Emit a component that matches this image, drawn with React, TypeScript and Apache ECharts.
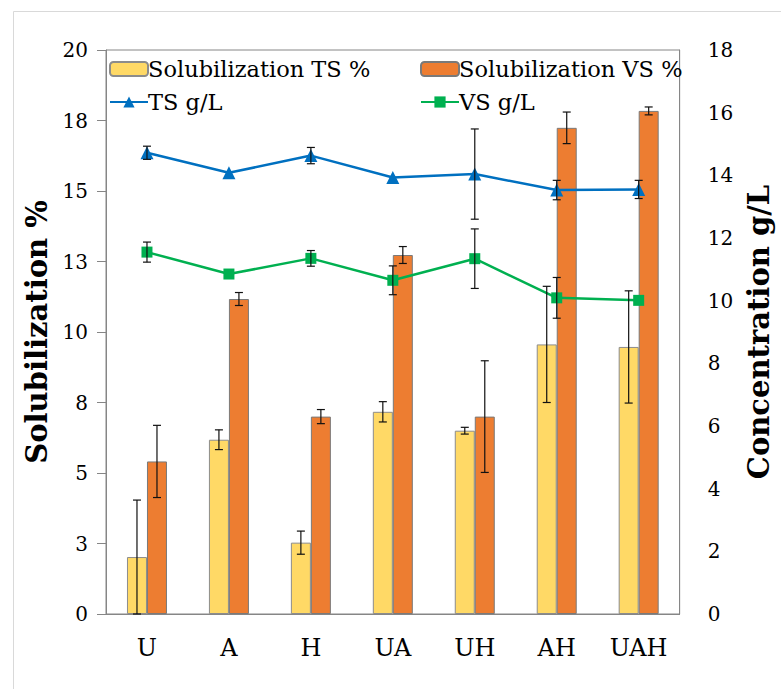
import React, { useEffect, useRef } from "react";
import * as echarts from "echarts";

const categories = ["U", "A", "H", "UA", "UH", "AH", "UAH"];
const solTS = [2.02, 6.18, 2.53, 7.17, 6.5, 9.56, 9.47];
const solTSErr = [2.02, 0.35, 0.41, 0.36, 0.12, 2.06, 1.99];
const solVS = [5.41, 11.17, 7.0, 12.73, 7.0, 17.24, 17.84];
const solVSErr = [1.28, 0.23, 0.25, 0.3, 1.98, 0.56, 0.14];
const tsGL = [14.72, 14.08, 14.63, 13.93, 14.04, 13.53, 13.55];
const tsGLErr = [0.21, 0, 0.26, 0, 1.44, 0.31, 0.29];
const vsGL = [11.55, 10.85, 11.35, 10.65, 11.34, 10.09, 10.01];
const vsGLErr = [0.32, 0, 0.25, 0.46, 0.95, 0.65, 0];

const leftAxisRange = { min: 0, max: 20, interval: 2.5 };
const rightAxisRange = { min: 0, max: 18, interval: 2 };

const FONT = "DejaVu Serif";
const AXIS_COLOR = "#868686";
const BAR_W = 20;

function errSeries(name: string, vals: number[], errs: number[], axis: number, offset: number) {
  return {
    type: "custom",
    name,
    yAxisIndex: axis,
    z: 5,
    silent: true,
    data: vals
      .map((v, i) => [i, v - errs[i], v + errs[i], errs[i]])
      .filter((d) => d[3] > 0),
    encode: { x: 0, y: [1, 2] },
    renderItem: (_params: any, api: any) => {
      const i = api.value(0);
      const lo = api.coord([i, api.value(1)]);
      const hi = api.coord([i, api.value(2)]);
      const x = lo[0] + offset;
      const style = { stroke: "#111", lineWidth: 1.2 };
      return {
        type: "group",
        children: [
          { type: "line", shape: { x1: x, y1: lo[1], x2: x, y2: hi[1] }, style },
          { type: "line", shape: { x1: x - 4, y1: lo[1], x2: x + 4, y2: lo[1] }, style },
          { type: "line", shape: { x1: x - 4, y1: hi[1], x2: x + 4, y2: hi[1] }, style },
        ],
      };
    },
  };
}

export default function App() {
  const ref = useRef<HTMLDivElement>(null);
  useEffect(() => {
    if (!ref.current) return;
    const chart = echarts.init(ref.current, null, { renderer: "svg" });
    const legendText = {
      fontFamily: FONT,
      fontSize: 22.5,
      color: "#000",
      lineHeight: 24,
      padding: [0, 0, 0, -5],
    };
    chart.setOption({
      animation: false,
      backgroundColor: "#fff",
      graphic: [
        {
          type: "rect",
          shape: { x: 13.5, y: 11.5, width: 800, height: 700 },
          style: { fill: "none", stroke: "#d9d9d9", lineWidth: 1 },
          silent: true,
        },
      ],
      grid: {
        left: 106,
        right: 92,
        top: 50,
        bottom: 75,
        show: true,
        borderColor: AXIS_COLOR,
        borderWidth: 1,
        backgroundColor: "transparent",
      },
      legend: [
        {
          data: ["Solubilization TS %", "TS g/L"],
          orient: "vertical",
          left: 104,
          top: 52,
          itemWidth: 38,
          itemHeight: 14,
          itemGap: 9,
          textStyle: legendText,
          selectedMode: false,
        },
        {
          data: ["Solubilization VS %", "VS g/L"],
          orient: "vertical",
          left: 415,
          top: 52,
          itemWidth: 38,
          itemHeight: 14,
          itemGap: 9,
          textStyle: legendText,
          selectedMode: false,
        },
      ],
      xAxis: {
        type: "category",
        data: categories,
        axisLine: { lineStyle: { color: AXIS_COLOR, width: 1 } },
        axisTick: { length: 9, lineStyle: { color: AXIS_COLOR } },
        axisLabel: { fontFamily: FONT, fontSize: 24, color: "#000", margin: 22 },
      },
      yAxis: [
        {
          type: "value",
          ...leftAxisRange,
          name: "Solubilization %",
          nameLocation: "middle",
          nameGap: 54,
          nameTextStyle: { fontFamily: FONT, fontSize: 29, fontWeight: "bold", color: "#000" },
          axisLine: { show: true, lineStyle: { color: AXIS_COLOR } },
          axisTick: { show: true, length: 9, lineStyle: { color: AXIS_COLOR } },
          splitLine: { show: false },
          axisLabel: {
            fontFamily: FONT,
            fontSize: 20,
            color: "#000",
            margin: 18,
            formatter: (v: number) => String(Math.round(v)),
          },
        },
        {
          type: "value",
          ...rightAxisRange,
          position: "right",
          name: "Concentration g/L",
          nameLocation: "middle",
          nameGap: 62,
          nameTextStyle: { fontFamily: FONT, fontSize: 29, fontWeight: "bold", color: "#000" },
          axisLine: { show: true, lineStyle: { color: AXIS_COLOR } },
          axisTick: { show: false },
          splitLine: { show: false },
          axisLabel: { fontFamily: FONT, fontSize: 20, color: "#000", margin: 28 },
        },
      ],
      series: [
        {
          name: "Solubilization TS %",
          type: "bar",
          data: solTS,
          barWidth: BAR_W,
          barGap: "0%",
          z: 2,
          itemStyle: { color: "#FFD966", borderColor: "#8c8c8c", borderWidth: 1 },
        },
        {
          name: "Solubilization VS %",
          type: "bar",
          data: solVS,
          barWidth: BAR_W,
          barGap: "0%",
          z: 2,
          itemStyle: { color: "#ED7D31", borderColor: "#7a7a7a", borderWidth: 1 },
        },
        {
          name: "TS g/L",
          type: "line",
          yAxisIndex: 1,
          data: tsGL,
          z: 3,
          symbol: "triangle",
          symbolSize: 13,
          lineStyle: { color: "#0070C0", width: 2.5 },
          itemStyle: { color: "#0070C0" },
        },
        {
          name: "VS g/L",
          type: "line",
          yAxisIndex: 1,
          data: vsGL,
          z: 3,
          symbol: "rect",
          symbolSize: 11,
          lineStyle: { color: "#00B050", width: 2.5 },
          itemStyle: { color: "#00B050" },
        },
        errSeries("errTS", solTS, solTSErr, 0, -BAR_W / 2),
        errSeries("errVS", solVS, solVSErr, 0, BAR_W / 2),
        errSeries("errTSgl", tsGL, tsGLErr, 1, 0),
        errSeries("errVSgl", vsGL, vsGLErr, 1, 0),
      ],
    });
    return () => chart.dispose();
  }, []);
  return (
    <div
      ref={ref}
      style={{ position: "absolute", left: 0, top: 0, width: 781, height: 689 }}
    />
  );
}
